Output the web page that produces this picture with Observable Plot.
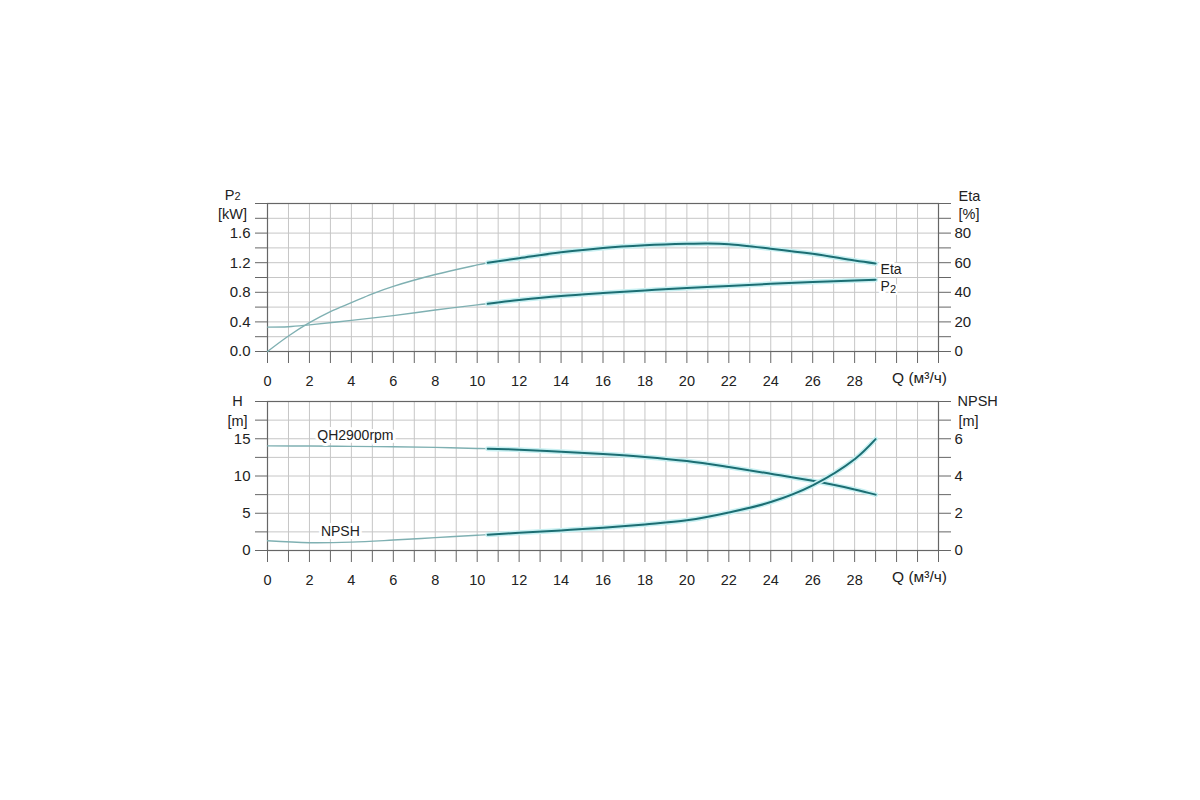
<!DOCTYPE html>
<html><head><meta charset="utf-8">
<script src="https://cdn.jsdelivr.net/npm/d3@7"></script>
<script src="https://cdn.jsdelivr.net/npm/@observablehq/plot@0.6"></script>
<style>
body{margin:0;background:#fff;width:1200px;height:800px;position:relative;overflow:hidden;font-family:"Liberation Sans",Arial,sans-serif}
#topChart,#bottomChart{position:absolute;left:0}
#topChart{top:0}
#bottomChart{top:380px}
</style></head><body>
<div id="topChart"></div><div id="bottomChart"></div>
<script>
// ---- data ----
const qEta   = [0, 1, 2, 3, 4, 5, 6, 8, 10, 10.5, 12, 14, 16, 18, 20, 21, 22, 24, 26, 28, 29];
const etaPct = [0, 10.5, 19.5, 27, 33, 39, 44, 52, 58.5, 60, 63, 67, 70, 71.8, 72.8, 73, 72.5, 69.5, 66, 61.5, 59.5];

const qP2 = [0, 1, 2, 4, 6, 8, 10, 10.5, 12, 14, 16, 18, 20, 22, 24, 26, 28, 29];
const p2kW = [0.33, 0.335, 0.36, 0.42, 0.485, 0.56, 0.63, 0.645, 0.695, 0.75, 0.79, 0.825, 0.858, 0.885, 0.915, 0.94, 0.958, 0.97];

const qH   = [0, 2, 4, 6, 8, 10, 10.5, 12, 14, 16, 18, 20, 22, 24, 26, 28, 29];
const headM = [14.05, 14.02, 13.97, 13.92, 13.84, 13.7, 13.67, 13.53, 13.26, 12.95, 12.55, 12.0, 11.2, 10.3, 9.35, 8.2, 7.5];
const npshM = [0.52, 0.42, 0.45, 0.56, 0.69, 0.82, 0.85, 0.95, 1.08, 1.22, 1.4, 1.62, 2.04, 2.6, 3.5, 4.9, 5.98];

const xTicks = [0,1,2,3,4,5,6,7,8,9,10,11,12,13,14,15,16,17,18,19,20,21,22,23,24,25,26,27,28,29,30,31,32];
const xLabels = [0,2,4,6,8,10,12,14,16,18,20,22,24,26,28];
const topTicks = [0,0.2,0.4,0.6,0.8,1.0,1.2,1.4,1.6,1.8,2.0];
const topLabels = [0,0.4,0.8,1.2,1.6];
const botTicks = [0,2.5,5,7.5,10,12.5,15,17.5,20];
const botLabels = [0,5,10,15];

// dual-axis factors
const ETA_PER_KW = 50;     // 80 % aligns with 1.6 kW
const H_PER_NPSH = 2.5;    // 6 m NPSH aligns with 15 m H

const etaData = qEta.map((q,i)=>({q, v: etaPct[i] / ETA_PER_KW}));
const p2Data = qP2.map((q,i)=>({q, v: p2kW[i]}));
const hData = qH.map((q,i)=>({q, v: headM[i]}));
const nData = qH.map((q,i)=>({q, v: npshM[i] * H_PER_NPSH}));

const DARK = "#1c6e73", LIGHT = "#7fb0b2", GLOW = "#c8f0f2";
const GRID = "#c6c6c6", AXIS = "#666", INK = "#222";
const FONT = '"Liberation Sans", Arial, sans-serif';
const SPLIT = 10.5;

function curve(data){
  return [
    Plot.line(data.filter(d=>d.q<=SPLIT), {x:"q", y:"v", stroke:LIGHT, strokeWidth:1.4, curve:"catmull-rom"}),
    Plot.line(data.filter(d=>d.q>=SPLIT), {x:"q", y:"v", stroke:GLOW, strokeWidth:5, curve:"catmull-rom"}),
    Plot.line(data.filter(d=>d.q>=SPLIT), {x:"q", y:"v", stroke:DARK, strokeWidth:2, curve:"catmull-rom"})
  ];
}
const fmtX = d => xLabels.includes(d) ? String(d) : "";
const near = (arr, d) => arr.some(v => Math.abs(v-d) < 1e-6);

function frameMarks(yTicks, leftFmt, rightFmt){
  return [
    Plot.gridX(xTicks, {stroke:GRID, strokeOpacity:1, strokeWidth:1}),
    Plot.gridY(yTicks, {stroke:GRID, strokeOpacity:1, strokeWidth:1}),
    Plot.axisX(xTicks, {anchor:"bottom", tickSize:12, tickPadding:12, tickFormat:fmtX, stroke:AXIS, fill:INK, label:null, fontSize:14.5}),
    Plot.axisY(yTicks, {anchor:"left", tickSize:12, tickPadding:5, tickFormat:leftFmt, stroke:AXIS, fill:INK, label:null, fontSize:15}),
    Plot.axisY(yTicks, {anchor:"right", tickSize:12, tickPadding:4, tickFormat:rightFmt, stroke:AXIS, fill:INK, label:null, fontSize:15}),
    Plot.frame({stroke:AXIS, strokeWidth:1.2})
  ];
}
const halo = {stroke:"white", strokeWidth:6, fill:INK, fontSize:14};
const lab = {fill:INK, fontSize:14.5};

// ---- top chart: P2 & Eta ----
const etaEnd = etaData[etaData.length-1], p2End = p2Data[p2Data.length-1];
const topPlot = Plot.plot({
  width:1200, height:395,
  marginLeft:267, marginRight:262, marginTop:203, marginBottom:44,
  style:{background:"transparent", overflow:"visible", fontFamily:FONT, fontSize:"14px", color:INK},
  x:{domain:[0,32]}, y:{domain:[0,2]},
  marks:[
    ...frameMarks(topTicks,
      d => near(topLabels,d) ? d.toFixed(1) : "",
      d => near(topLabels,d) ? String(Math.round(d*ETA_PER_KW)) : ""),
    ...curve(etaData),
    ...curve(p2Data),
    Plot.text([etaEnd], {x:"q", y:"v", text:()=>"Eta", textAnchor:"start", dx:5, dy:6, ...halo}),
    Plot.text([p2End], {x:"q", y:"v", text:()=>"P", textAnchor:"start", dx:5, dy:7, ...halo}),
    Plot.text([p2End], {x:"q", y:"v", text:()=>"2", textAnchor:"start", dx:14.5, dy:9.5, stroke:"white", strokeWidth:4, fill:INK, fontSize:11}),
    Plot.text(["P"], {frameAnchor:"top-left", text:d=>d, textAnchor:"end", dx:-33, dy:-14, ...lab}),
    Plot.text(["2"], {frameAnchor:"top-left", text:d=>d, textAnchor:"start", dx:-33, dy:-11.5, fill:INK, fontSize:11}),
    Plot.text(["[kW]"], {frameAnchor:"top-left", text:d=>d, textAnchor:"middle", dx:-35, dy:5, ...lab}),
    Plot.text(["Eta"], {frameAnchor:"top-right", text:d=>d, textAnchor:"start", dx:20, dy:-13, ...lab}),
    Plot.text(["[%]"], {frameAnchor:"top-right", text:d=>d, textAnchor:"start", dx:20, dy:5, ...lab}),
    Plot.text(["Q (м³/ч)"], {frameAnchor:"bottom-right", text:d=>d, textAnchor:"middle", dx:-19, dy:31, fill:INK, fontSize:15.5})
  ]
});
document.getElementById("topChart").append(topPlot);

// ---- bottom chart: H & NPSH ----
const bottomPlot = Plot.plot({
  width:1200, height:230,
  marginLeft:267, marginRight:262, marginTop:21, marginBottom:60,
  style:{background:"transparent", overflow:"visible", fontFamily:FONT, fontSize:"14px", color:INK},
  x:{domain:[0,32]}, y:{domain:[0,20]},
  marks:[
    ...frameMarks(botTicks,
      d => near(botLabels,d) ? String(d) : "",
      d => near(botLabels,d) ? String(Math.round(d/H_PER_NPSH)) : ""),
    ...curve(hData),
    ...curve(nData),
    Plot.text([hData[2]], {x:"q", y:"v", text:()=>"QH2900rpm", textAnchor:"middle", dx:4, dy:-11, ...halo}),
    Plot.text([nData[2]], {x:"q", y:"v", text:()=>"NPSH", textAnchor:"middle", dx:-11, dy:-11, ...halo}),
    Plot.text(["H"], {frameAnchor:"top-left", text:d=>d, textAnchor:"middle", dx:-30, dy:-6, ...lab}),
    Plot.text(["[m]"], {frameAnchor:"top-left", text:d=>d, textAnchor:"middle", dx:-30, dy:14, ...lab}),
    Plot.text(["NPSH"], {frameAnchor:"top-right", text:d=>d, textAnchor:"start", dx:19, dy:-6, ...lab}),
    Plot.text(["[m]"], {frameAnchor:"top-right", text:d=>d, textAnchor:"start", dx:20, dy:14, ...lab}),
    Plot.text(["Q (м³/ч)"], {frameAnchor:"bottom-right", text:d=>d, textAnchor:"middle", dx:-19, dy:31, fill:INK, fontSize:15.5})
  ]
});
document.getElementById("bottomChart").append(bottomPlot);
</script>
</body></html>
